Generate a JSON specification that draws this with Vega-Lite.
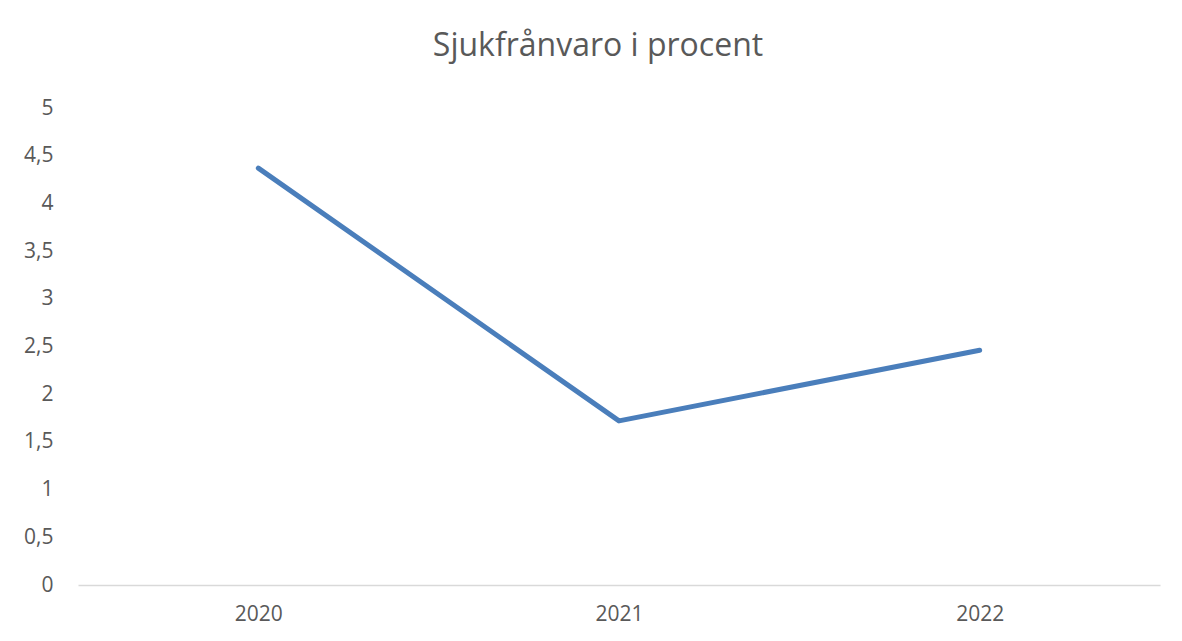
{
  "$schema": "https://vega.github.io/schema/vega-lite/v6.json",
  "width": 1082,
  "height": 477,
  "autosize": "none",
  "padding": {"left": 78, "top": 108, "right": 22, "bottom": 56},
  "background": "white",
  "title": {
    "text": "Sjukfrånvaro i procent",
    "font": "Open Sans",
    "fontSize": 32,
    "fontWeight": 400,
    "color": "#595959",
    "anchor": "middle",
    "dx": -21,
    "offset": 34
  },
  "data": {
    "values": [
      {"year": "2020", "value": 4.37},
      {"year": "2021", "value": 1.72},
      {"year": "2022", "value": 2.46}
    ]
  },
  "mark": {"type": "line", "color": "#4a7ebb", "strokeWidth": 5, "strokeCap": "round", "strokeJoin": "round"},
  "encoding": {
    "x": {
      "field": "year",
      "type": "ordinal",
      "scale": {"type": "point", "padding": 0.5},
      "axis": {
        "title": null,
        "labelAngle": 0,
        "ticks": false,
        "grid": false,
        "domainColor": "#d9d9d9",
        "domainWidth": 1.5,
        "labelFont": "Open Sans",
        "labelFontSize": 21,
        "labelColor": "#595959",
        "labelPadding": 18
      }
    },
    "y": {
      "field": "value",
      "type": "quantitative",
      "scale": {"domain": [0, 5]},
      "axis": {
        "title": null,
        "values": [0, 0.5, 1, 1.5, 2, 2.5, 3, 3.5, 4, 4.5, 5],
        "labelExpr": "replace(toString(datum.value), '.', ',')",
        "domain": false,
        "ticks": false,
        "grid": false,
        "labelFont": "Open Sans",
        "labelFontSize": 21,
        "labelColor": "#595959",
        "labelPadding": 25
      }
    }
  },
  "config": {"view": {"stroke": null}}
}
